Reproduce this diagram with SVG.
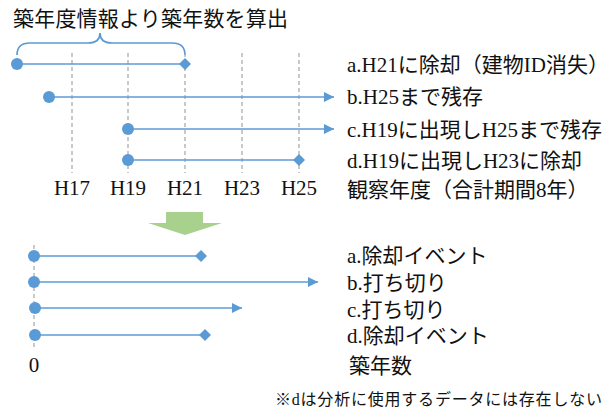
<svg xmlns="http://www.w3.org/2000/svg" width="616" height="412" viewBox="0 0 616 412">
<defs>
<style>
text{font-family:"Liberation Serif","Noto Sans CJK JP",serif;fill:#111;font-size:21px}
.jp{font-family:"Noto Sans CJK JP",sans-serif}
.ln{stroke:#5b9bd5;stroke-width:1.7;fill:none}
.dash{stroke:#a6a6a6;stroke-width:1.2;stroke-dasharray:4 3;fill:none}
.dot{fill:#5b9bd5}
.mid{text-anchor:middle}
</style>
<marker id="arr" viewBox="0 0 10 10" refX="10" refY="5" markerWidth="12" markerHeight="10" markerUnits="userSpaceOnUse" orient="auto">
<path d="M0,0 L10,5 L0,10 Z" fill="#5b9bd5"/>
</marker>
</defs>
<rect width="616" height="412" fill="#fff"/>

<g id="title"><text class="jp" x="13" y="26" style="font-size:21px" textLength="275">築年度情報より築年数を算出</text></g>
<g id="brace"><path class="ln" stroke-width="1.2" d="M17,55 Q17,43 30,43 L88,43 Q100,43 100,33 Q100,43 112,43 L172,43 Q185,43 185,55"/></g>

<g id="gridlines">
<line class="dash" x1="72" y1="53" x2="72" y2="173"/>
<line class="dash" x1="128" y1="53" x2="128" y2="173"/>
<line class="dash" x1="185" y1="53" x2="185" y2="173"/>
<line class="dash" x1="242" y1="53" x2="242" y2="173"/>
<line class="dash" x1="299" y1="53" x2="299" y2="173"/>
<line class="dash" x1="34" y1="245" x2="34" y2="347"/>
</g>

<g id="connectors">
<line class="ln" x1="17" y1="64" x2="185" y2="64"/>
<line class="ln" x1="49" y1="97" x2="334" y2="97" marker-end="url(#arr)"/>
<line class="ln" x1="128" y1="129" x2="334" y2="129" marker-end="url(#arr)"/>
<line class="ln" x1="128" y1="160" x2="299" y2="160"/>
<line class="ln" x1="34" y1="256" x2="201" y2="256"/>
<line class="ln" x1="34" y1="282" x2="318" y2="282" marker-end="url(#arr)"/>
<line class="ln" x1="35" y1="308" x2="242" y2="308" marker-end="url(#arr)"/>
<line class="ln" x1="35" y1="335" x2="205" y2="335"/>
</g>

<g id="row-a"><circle class="dot" cx="17" cy="64" r="6"/><path class="dot" d="M185,58 L191,64 L185,70 L179,64 Z"/><text x="347" y="72">a.H21に除却（建物ID消失）</text></g>
<g id="row-b"><circle class="dot" cx="49" cy="97" r="6"/><text x="347" y="104">b.H25まで残存</text></g>
<g id="row-c"><circle class="dot" cx="128" cy="129" r="6"/><text x="347" y="137">c.H19に出現しH25まで残存</text></g>
<g id="row-d"><circle class="dot" cx="128" cy="160" r="6"/><path class="dot" d="M299,154 L305,160 L299,166 L293,160 Z"/><text x="347" y="168">d.H19に出現しH23に除却</text></g>

<g id="axis-top">
<text class="mid" x="72" y="195">H17</text>
<text class="mid" x="128" y="195">H19</text>
<text class="mid" x="185" y="195">H21</text>
<text class="mid" x="242" y="195">H23</text>
<text class="mid" x="299" y="195">H25</text>
<text x="347" y="197">観察年度（合計期間8年）</text>
</g>

<g id="transform-arrow"><path d="M166,212 L203,212 L203,223 L222,223 L185,235 L148,223 L166,223 Z" fill="#a9d18e"/></g>

<g id="row-a2"><circle class="dot" cx="34" cy="256" r="6"/><path class="dot" d="M201,250 L207,256 L201,262 L195,256 Z"/><text x="347" y="263">a.除却イベント</text></g>
<g id="row-b2"><circle class="dot" cx="34" cy="282" r="6"/><text x="347" y="290">b.打ち切り</text></g>
<g id="row-c2"><circle class="dot" cx="35" cy="308" r="6"/><text x="347" y="317">c.打ち切り</text></g>
<g id="row-d2"><circle class="dot" cx="35" cy="335" r="6"/><path class="dot" d="M205,329 L211,335 L205,341 L199,335 Z"/><text x="347" y="343">d.除却イベント</text></g>

<g id="axis-bottom">
<text class="mid" x="34" y="372">0</text>
<text x="349" y="373">築年数</text>
</g>
<g id="note"><text x="275" y="405" style="font-size:16px" textLength="327">※dは分析に使用するデータには存在しない</text></g>
</svg>
